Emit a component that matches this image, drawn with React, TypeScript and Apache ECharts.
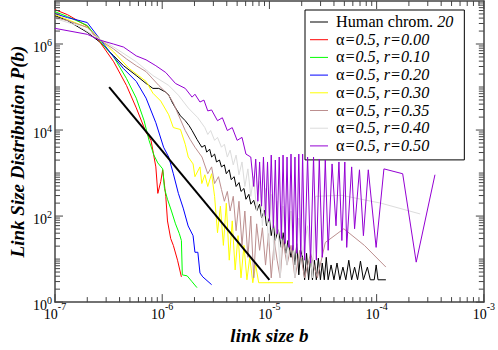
import React, { useEffect, useRef } from "react";
import * as echarts from "echarts";

const SERIF = "'Liberation Serif', 'DejaVu Serif', serif";
const AXIS_COLOR = "#444";

const X_MIN = 1e-7;
const X_MAX = 1e-3;
const Y_MIN = 1;
const Y_MAX = 1e7;

const seriesNames = [
  "Human chrom. 20",
  "α=0.5, r=0.00",
  "α=0.5, r=0.10",
  "α=0.5, r=0.20",
  "α=0.5, r=0.30",
  "α=0.5, r=0.35",
  "α=0.5, r=0.40",
  "α=0.5, r=0.50",
];
const seriesColors = ["#000000", "#ff0000", "#00ff00", "#0000ff", "#ffff00", "#bc8f8f", "#dcdcdc", "#9400d3"];

// Human chromosome 20
const human: [number, number][] = [
  [1e-7, 4.57e6], [1.31e-7, 3.5e6], [2.0e-7, 1.87e6], [2.63e-7, 1.1e6], [3.53e-7, 5.3e5], [4.36e-7, 3.13e5],
  [5.73e-7, 1.85e5], [7.07e-7, 1.21e5], [8.19e-7, 9.3e4], [9.29e-7, 9.3e4], [1.08e-6, 7.6e4], [1.15e-6, 6.5e4],
  [1.25e-6, 4.25e4], [1.33e-6, 3.26e4], [1.48e-6, 2.14e4], [1.64e-6, 1.65e4], [1.78e-6, 1.27e4], [1.90e-6, 9.75e3],
  [2.11e-6, 6.07e3], [2.34e-6, 3.99e3], [2.50e-6, 4.43e3], [2.60e-6, 3.06e3], [2.77e-6, 3.59e3], [2.89e-6, 2.36e3],
  [3.08e-6, 2.76e3], [3.21e-6, 1.81e3], [3.42e-6, 2.01e3], [3.57e-6, 1.39e3], [3.80e-6, 1.55e3], [3.96e-6, 964],
  [4.22e-6, 1.19e3], [4.40e-6, 703], [4.69e-6, 824], [4.89e-6, 487], [5.21e-6, 601], [5.43e-6, 374], [5.79e-6, 438],
  [6.04e-6, 246], [6.43e-6, 320], [6.71e-6, 189], [7.14e-6, 233], [7.61e-6, 131], [8.10e-6, 189], [8.45e-6, 90.6],
  [9.0e-6, 138], [9.39e-6, 59.4], [1.0e-5, 90.6], [1.04e-5, 35.1], [1.09e-5, 66], [1.13e-5, 27], [1.21e-5, 48.2],
  [1.29e-5, 18.7], [1.34e-5, 41.1], [1.43e-5, 13.6], [1.49e-5, 27], [1.59e-5, 11], [1.66e-5, 20.8],
  [1.73e-5, 7.3], [1.80e-5, 23], [1.88e-5, 4.3], [1.96e-5, 16], [2.04e-5, 11], [2.13e-5, 3.3], [2.22e-5, 13.6],
  [2.32e-5, 3.3], [2.42e-5, 11], [2.52e-5, 3.3], [2.63e-5, 9.4], [2.74e-5, 3.3], [2.86e-5, 10.5], [2.99e-5, 3.3],
  [3.11e-5, 8.1], [3.25e-5, 3.3], [3.39e-5, 11], [3.53e-5, 3.3], [3.76e-5, 7.3], [4.0e-5, 3.3], [4.27e-5, 8.1],
  [4.54e-5, 3.3], [4.85e-5, 6.5], [5.16e-5, 3.3], [5.5e-5, 9.4], [5.85e-5, 3.3], [6.23e-5, 6.5], [6.64e-5, 3.3],
  [7.07e-5, 9], [7.53e-5, 3.3], [8.2e-5, 6.5], [8.73e-5, 3.3], [9.5e-5, 3.3], [9.9e-5, 7.3], [1.03e-4, 3.3],
  [1.22e-4, 3.3],
];

const r000: [number, number][] = [
  [1e-7, 6.3e6], [1.31e-7, 4.8e6], [2.0e-7, 2.6e6], [2.63e-7, 1.1e6], [3.53e-7, 3.86e5], [4.64e-7, 1.09e5],
  [5.73e-7, 3.27e4], [7.07e-7, 8.8e3], [7.86e-7, 5.8e3], [8.72e-7, 1.39e3], [9.1e-7, 337], [9.69e-7, 633],
  [1.01e-6, 1.19e3], [1.08e-6, 288], [1.12e-6, 77], [1.2e-6, 30], [1.27e-6, 20.8], [1.39e-6, 9.4], [1.51e-6, 3.86],
];

const r010: [number, number][] = [
  [1e-7, 5.64e6], [1.31e-7, 4.34e6], [2.0e-7, 2.7e6], [2.63e-7, 1.16e6], [3.53e-7, 5.0e5], [4.64e-7, 1.58e5],
  [5.73e-7, 5.5e4], [6.78e-7, 1.65e4], [7.53e-7, 5.8e3], [8.36e-7, 2.62e3], [9.1e-7, 1.72e3], [1.01e-6, 1.25e3],
  [1.05e-6, 438], [1.12e-6, 246], [1.22e-6, 131], [1.33e-6, 66], [1.445e-6, 39], [1.51e-6, 27], [1.54e-6, 4.3],
  [1.71e-6, 4.07], [1.9e-6, 2.97], [2.11e-6, 2.17],
];

const r020: [number, number][] = [
  [1e-7, 5.07e6], [1.31e-7, 4.11e6], [2.0e-7, 3.16e6], [2.63e-7, 1.29e6], [3.53e-7, 5.0e5], [4.36e-7, 2.67e5],
  [5.73e-7, 1.35e5], [7.07e-7, 5.52e4], [8.72e-7, 1.48e4], [1.03e-6, 3.99e3], [1.15e-6, 2.36e3], [1.27e-6, 964],
  [1.415e-6, 337], [1.57e-6, 153], [1.745e-6, 59], [1.94e-6, 35], [2.02e-6, 14.4], [2.15e-6, 14.4], [2.25e-6, 4.76],
  [2.39e-6, 3.86], [2.89e-6, 2.54],
];

const r030: [number, number][] = [
  [1e-7, 4.82e6], [1.31e-7, 3.7e6], [2.0e-7, 2.43e6], [2.63e-7, 1.29e6], [3.53e-7, 6.53e5], [4.94e-7, 2.67e5],
  [7.07e-7, 1.35e5], [8.19e-7, 7.18e4], [9.69e-7, 4.72e4], [1.15e-6, 2.26e4], [1.27e-6, 1.14e4], [1.48e-6, 1.03e4],
  [1.64e-6, 4.67e3], [1.75e-6, 2.36e3], [1.94e-6, 1.63e3], [2.02e-6, 824], [2.25e-6, 1.39e3], [2.34e-6, 570],
  [2.5e-6, 914], [2.66e-6, 487], [2.89e-6, 964], [3.08e-6, 288], [3.28e-6, 41], [3.49e-6, 170], [3.72e-6, 20.8],
  [3.96e-6, 199], [4.22e-6, 9.44], [4.5e-6, 77.3], [4.79e-6, 5.58], [5.1e-6, 35.1], [5.43e-6, 3.66], [5.79e-6, 20.8],
  [6.17e-6, 3.3], [6.56e-6, 11], [7.0e-6, 2.82], [7.45e-6, 7.26], [7.94e-6, 2.82], [1.66e-5, 2.82],
];

const r035: [number, number][] = [
  [1e-7, 4.11e6], [1.31e-7, 3.5e6], [2.0e-7, 2.43e6], [2.63e-7, 1.23e6], [3.53e-7, 7.65e5], [4.64e-7, 4.5e5],
  [5.73e-7, 3.13e5], [7.07e-7, 2.28e5], [9.29e-7, 1.09e5], [1.15e-6, 6.47e4], [1.27e-6, 4.25e4], [1.415e-6, 2.26e4],
  [1.64e-6, 9.75e3], [1.82e-6, 6.07e3], [2.02e-6, 3.99e3], [2.35e-6, 2.36e3], [2.66e-6, 964], [2.89e-6, 1.39e3],
  [3.08e-6, 570], [3.35e-6, 824], [3.57e-6, 416], [3.8e-6, 221], [4.05e-6, 374], [4.3e-6, 131], [4.6e-6, 288],
  [4.89e-6, 45.7], [5.2e-6, 221], [5.55e-6, 20.8], [5.9e-6, 131], [6.3e-6, 11], [6.7e-6, 100], [7.14e-6, 3.66],
  [7.6e-6, 66], [8.1e-6, 16], [8.6e-6, 53.5], [9.2e-6, 7.26], [9.8e-6, 39], [1.04e-5, 3.66], [1.11e-5, 27],
  [1.18e-5, 9.44], [1.26e-5, 3.66], [1.34e-5, 27], [1.46e-5, 7.26], [1.59e-5, 20.8], [1.73e-5, 3.66], [1.92e-5, 16],
  [2.13e-5, 3.66], [2.42e-5, 13.6], [2.8e-5, 3.66], [3.32e-5, 24.3], [4.94e-5, 50.7], [7.69e-5, 20.8],
  [1.22e-4, 6.53],
];

const r040: [number, number][] = [
  [1e-7, 3.9e6], [1.62e-7, 2.7e6], [2.63e-7, 1.29e6], [3.53e-7, 8.49e5], [5.73e-7, 3.86e5], [8.19e-7, 1.85e5],
  [1.15e-6, 1.09e5], [1.415e-6, 6.47e4], [1.75e-6, 3.26e4], [2.15e-6, 1.93e4], [2.5e-6, 1.14e4], [2.66e-6, 7.9e3],
  [2.83e-6, 9.75e3], [3.08e-6, 5.76e3], [3.28e-6, 6.75e3], [3.57e-6, 3.99e3], [3.8e-6, 4.67e3], [4.05e-6, 2.36e3],
  [4.3e-6, 3.41e3], [4.6e-6, 1.55e3], [4.89e-6, 2.62e3], [5.2e-6, 914], [5.55e-6, 1.81e3], [5.9e-6, 487],
  [6.3e-6, 1.25e3], [6.7e-6, 288], [7.14e-6, 824], [7.6e-6, 131], [8.1e-6, 633], [8.6e-6, 59.4], [9.2e-6, 438],
  [9.8e-6, 20.8], [1.04e-5, 320], [1.11e-5, 9.44], [1.18e-5, 221], [1.26e-5, 3.66], [1.34e-5, 170], [1.46e-5, 7.26],
  [1.59e-5, 131], [1.73e-5, 3.66], [1.88e-5, 90], [2.04e-5, 12.3], [2.27e-5, 59.4], [2.52e-5, 3.66],
  [2.69e-5, 288], [4.74e-5, 303], [1.1e-4, 199], [2.55e-4, 112],
];

const r050: [number, number][] = [
  [1e-7, 2.31e6], [2.0e-7, 1.68e6], [2.63e-7, 1.23e6], [3.53e-7, 9.95e5], [4.36e-7, 8.5e5], [5.73e-7, 5.3e5],
  [7.07e-7, 4.29e5], [8.72e-7, 3.13e5], [1.08e-6, 2.17e5], [1.33e-6, 1.21e5], [1.64e-6, 9.3e4], [1.9e-6, 5.82e4],
  [2.02e-6, 6.8e4], [2.25e-6, 4.48e4], [2.45e-6, 4.97e4], [2.66e-6, 2.79e4], [2.89e-6, 2.93e4], [3.28e-6, 1.65e4],
  [3.64e-6, 1.93e4], [4.05e-6, 9.75e3], [4.5e-6, 1.14e4], [5.0e-6, 5.76e3], [5.55e-6, 6.75e3], [6.04e-6, 2.76e3],
  [6.7e-6, 2.36e3], [7.14e-6, 487], [7.45e-6, 2.12e3], [7.8e-6, 221], [8.1e-6, 1.81e3], [8.45e-6, 170],
  [8.8e-6, 2.36e3], [9.2e-6, 100], [9.6e-6, 1.81e3], [1.0e-5, 77], [1.04e-5, 2.62e3], [1.09e-5, 53.5],
  [1.135e-5, 2.01e3], [1.18e-5, 39], [1.234e-5, 2.36e3], [1.29e-5, 30], [1.34e-5, 2.62e3], [1.4e-5, 23],
  [1.46e-5, 2.36e3], [1.52e-5, 18.7], [1.59e-5, 2.76e3], [1.66e-5, 16], [1.73e-5, 2.36e3], [1.8e-5, 13.6],
  [1.88e-5, 2.76e3], [1.96e-5, 11], [2.04e-5, 2.76e3], [2.13e-5, 9.44], [2.27e-5, 2.36e3], [2.42e-5, 8.06],
  [2.58e-5, 2.36e3], [2.74e-5, 9.44], [2.92e-5, 2.12e3], [3.11e-5, 11], [3.32e-5, 2.01e3], [3.53e-5, 16],
  [3.84e-5, 1.63e3], [4.18e-5, 59.4], [4.45e-5, 1.81e3], [4.74e-5, 27], [5.05e-5, 1.81e3], [5.26e-5, 18.7],
  [5.85e-5, 1.39e3], [6.23e-5, 50.7], [6.92e-5, 1.19e3], [7.53e-5, 35], [8.36e-5, 1.19e3], [9.89e-5, 18.7],
  [1.17e-4, 1.25e3], [1.75e-4, 964], [2.34e-4, 8.49], [3.5e-4, 914],
];

// b^-3 guide line
const guideLine: [number, number][] = [[3.2e-7, 1.0e5], [1.0e-5, 3.28]];

const seriesData = [human, r000, r010, r020, r030, r035, r040, r050];

// axis ticks
const xMajorTicks = [1e-7, 1e-6, 1e-5, 1e-4, 1e-3];
const xMinorTicks = [
  2e-7, 3e-7, 4e-7, 5e-7, 6e-7, 7e-7, 8e-7, 9e-7,
  2e-6, 3e-6, 4e-6, 5e-6, 6e-6, 7e-6, 8e-6, 9e-6,
  2e-5, 3e-5, 4e-5, 5e-5, 6e-5, 7e-5, 8e-5, 9e-5,
  2e-4, 3e-4, 4e-4, 5e-4, 6e-4, 7e-4, 8e-4, 9e-4,
];
const yMajorTicks = [1, 1e2, 1e4, 1e6];
const yMinorTicks = [
  2, 3, 4, 5, 6, 7, 8, 9, 10,
  20, 30, 40, 50, 60, 70, 80, 90,
  200, 300, 400, 500, 600, 700, 800, 900, 1e3,
  2e3, 3e3, 4e3, 5e3, 6e3, 7e3, 8e3, 9e3,
  2e4, 3e4, 4e4, 5e4, 6e4, 7e4, 8e4, 9e4, 1e5,
  2e5, 3e5, 4e5, 5e5, 6e5, 7e5, 8e5, 9e5,
  2e6, 3e6, 4e6, 5e6, 6e6, 7e6, 8e6, 9e6,
];
const MAJOR_LEN = 8;
const MINOR_LEN = 5;

const exponentOf = (v: number) => Math.round(Math.log10(v));

export default function App() {
  const ref = useRef<HTMLDivElement>(null);

  useEffect(() => {
    if (!ref.current) return;
    const chart = echarts.init(ref.current, null, { renderer: "svg" });

    const xTickData = [
      ...xMajorTicks.map((v) => [v, Y_MIN, MAJOR_LEN]),
      ...xMinorTicks.map((v) => [v, Y_MIN, MINOR_LEN]),
    ];
    const yTickData = [
      ...yMajorTicks.map((v) => [X_MIN, v, MAJOR_LEN]),
      ...yMinorTicks.map((v) => [X_MIN, v, MINOR_LEN]),
    ];

    const tickStyle = { stroke: AXIS_COLOR, lineWidth: 1 };

    const axisCommon = {
      type: "log" as const,
      logBase: 10,
      axisLine: { show: true, onZero: false, lineStyle: { color: AXIS_COLOR, width: 1.5 } },
      axisTick: { show: false },
      splitLine: { show: false },
      minorTick: { show: false },
    };

    const xRich = {
      b: { fontFamily: SERIF, fontSize: 14, color: "#000", lineHeight: 14, padding: [8, 0, 0, 0] },
      s: { fontFamily: SERIF, fontSize: 10, color: "#000", lineHeight: 10, padding: [0, 0, 8, 0] },
    };
    const yRich = {
      b: { fontFamily: SERIF, fontSize: 14, color: "#000", lineHeight: 14, padding: [6, 0, 0, 0] },
      s: { fontFamily: SERIF, fontSize: 10, color: "#000", lineHeight: 10, padding: [0, 0, 4, 0] },
    };

    const lineSeries = seriesNames.map((name, i) => ({
      name,
      type: "line" as const,
      data: seriesData[i],
      symbol: "none",
      showSymbol: false,
      lineStyle: { color: seriesColors[i], width: 1 },
      itemStyle: { color: seriesColors[i] },
      z: 2 + i,
      silent: true,
    }));

    chart.setOption({
      animation: false,
      backgroundColor: "#fff",
      grid: { left: 47, right: 13, top: 1, bottom: 42, containLabel: false },
      xAxis: [
        {
          ...axisCommon,
          min: X_MIN,
          max: X_MAX,
          position: "bottom",
          name: "link size b",
          nameLocation: "middle",
          nameGap: 20,
          nameTextStyle: { fontFamily: SERIF, fontSize: 19, fontWeight: "bold", fontStyle: "italic", color: "#000" },
          axisLabel: {
            show: true,
            margin: 1,
            showMinLabel: true,
            showMaxLabel: true,
            formatter: (v: number) => `{b|10}{s|${exponentOf(v)}}`,
            rich: xRich,
          },
        },
        {
          ...axisCommon,
          min: X_MIN,
          max: X_MAX,
          position: "top",
          axisLabel: { show: false },
        },
      ],
      yAxis: [
        {
          ...axisCommon,
          min: Y_MIN,
          max: Y_MAX,
          position: "left",
          name: "Link Size Distribution P(b)",
          nameLocation: "middle",
          nameGap: 28,
          nameMoveOverlap: false,
          nameTextStyle: { fontFamily: SERIF, fontSize: 19, fontWeight: "bold", fontStyle: "italic", color: "#000" },
          axisLabel: {
            show: true,
            margin: 3,
            showMinLabel: true,
            showMaxLabel: true,
            formatter: (v: number) => {
              const e = exponentOf(v);
              return e % 2 === 0 ? `{b|10}{s|${e}}` : "";
            },
            rich: yRich,
          },
        },
        {
          ...axisCommon,
          min: Y_MIN,
          max: Y_MAX,
          position: "right",
          axisLabel: { show: false },
        },
      ],
      legend: {
        data: seriesNames.map((name) => ({ name, icon: "path://M0,9L18,9L18,10L0,10Z" })),
        orient: "vertical",
        left: 305,
        top: 10,
        padding: [4, 11, 6, 5],
        itemGap: 1.7,
        itemWidth: 18,
        itemHeight: 18,
        borderColor: "#000",
        borderWidth: 1,
        backgroundColor: "#fff",
        selectedMode: false,
        formatter: (name: string) => {
          if (name.startsWith("Human")) return "{n|Human chrom. }{i|20}";
          return `{n|${name.slice(0, 1)}}{i|${name.slice(1)}}`;
        },
        textStyle: {
          color: "#000",
          rich: {
            n: { fontFamily: SERIF, fontSize: 16.2, fontStyle: "normal", color: "#000", lineHeight: 18, padding: [0, 0, 0, 3] },
            i: { fontFamily: SERIF, fontSize: 16.2, fontStyle: "italic", color: "#000", lineHeight: 18 },
          },
        },
      },
      series: [
        ...lineSeries,
        {
          name: "guide",
          type: "line",
          data: guideLine,
          symbol: "none",
          showSymbol: false,
          lineStyle: { color: "#000", width: 2 },
          z: 20,
          silent: true,
        },
        {
          name: "xticks",
          type: "custom",
          data: xTickData,
          encode: { x: 0, y: 1 },
          silent: true,
          z: 30,
          renderItem: (_p: any, api: any) => {
            const v = api.value(0);
            const len = api.value(2);
            const b = api.coord([v, Y_MIN]);
            const t = api.coord([v, Y_MAX]);
            return {
              type: "group",
              children: [
                { type: "line", shape: { x1: b[0], y1: b[1], x2: b[0], y2: b[1] - len }, style: tickStyle },
                { type: "line", shape: { x1: t[0], y1: t[1], x2: t[0], y2: t[1] + len }, style: tickStyle },
              ],
            };
          },
        },
        {
          name: "yticks",
          type: "custom",
          data: yTickData,
          encode: { x: 0, y: 1 },
          silent: true,
          z: 30,
          renderItem: (_p: any, api: any) => {
            const v = api.value(1);
            const len = api.value(2);
            const l = api.coord([X_MIN, v]);
            const r = api.coord([X_MAX, v]);
            return {
              type: "group",
              children: [
                { type: "line", shape: { x1: l[0], y1: l[1], x2: l[0] + len, y2: l[1] }, style: tickStyle },
                { type: "line", shape: { x1: r[0], y1: r[1], x2: r[0] - len, y2: r[1] }, style: tickStyle },
              ],
            };
          },
        },
      ],
    });

    return () => {
      chart.dispose();
    };
  }, []);

  return <div ref={ref} style={{ width: 498, height: 350, position: "absolute", left: 0, top: 0 }} />;
}
